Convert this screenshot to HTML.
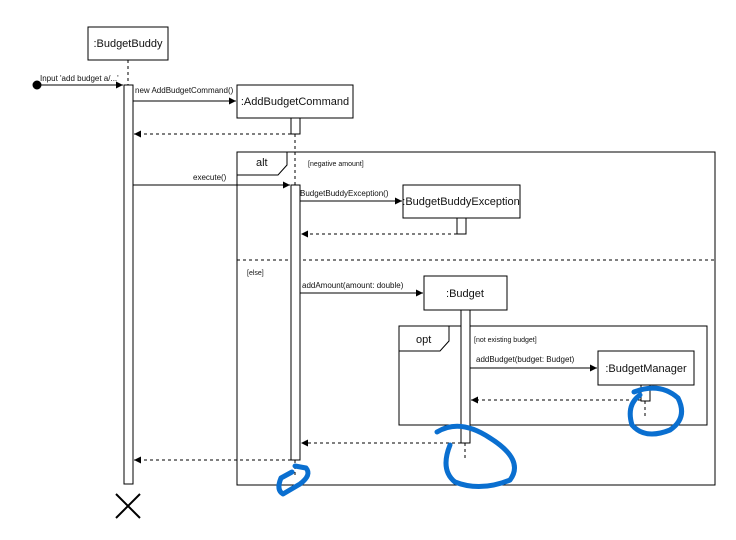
<!DOCTYPE html>
<html><head><style>body{margin:0;background:#fff}svg{display:block}text{font-family:"Liberation Sans",sans-serif;fill:#111}</style></head>
<body>
<svg width="736" height="540" viewBox="0 0 736 540" xmlns="http://www.w3.org/2000/svg">
<defs><marker id="a" markerWidth="8" markerHeight="8" refX="7" refY="4" orient="auto" markerUnits="userSpaceOnUse"><path d="M0,0.5 L7,4 L0,7.5 z" fill="#000"/></marker></defs>
<g stroke="#000" fill="#fff" stroke-width="1">
<!-- frames -->
<rect x="237" y="152" width="478" height="333" fill="none"/>
<path d="M237,175 H278 L287,165 V152" fill="none"/>
<line x1="237" y1="260" x2="715" y2="260" stroke-dasharray="3,3"/>
<rect x="399" y="326" width="308" height="99" fill="none"/>
<path d="M399,351 H440 L449,341 V326" fill="none"/>
<!-- lifelines -->
<g stroke-dasharray="3,3" fill="none">
<line x1="128" y1="60" x2="128" y2="85"/>
<line x1="295" y1="134" x2="295" y2="185"/>
<line x1="295" y1="460" x2="295" y2="476"/>
<line x1="465" y1="443" x2="465" y2="458"/>
<line x1="645" y1="401" x2="645" y2="416"/>
</g>
<!-- boxes -->
<rect x="88" y="27" width="80" height="33"/>
<rect x="237" y="85" width="116" height="33"/>
<rect x="403" y="185" width="117" height="33"/>
<rect x="424" y="276" width="83" height="34"/>
<rect x="598" y="351" width="96" height="34"/>
<!-- activations -->
<rect x="124" y="85" width="9" height="399"/>
<rect x="291" y="118" width="9" height="16"/>
<rect x="291" y="185" width="9" height="275"/>
<rect x="457" y="218" width="9" height="16"/>
<rect x="461" y="310" width="9" height="133"/>
<rect x="641" y="385" width="9" height="16"/>
<!-- messages -->
<circle cx="37" cy="85" r="4" fill="#000"/>
<line x1="37" y1="85" x2="123" y2="85" marker-end="url(#a)"/>
<line x1="133" y1="101" x2="236" y2="101" marker-end="url(#a)"/>
<line x1="133" y1="185" x2="290" y2="185" marker-end="url(#a)"/>
<line x1="300" y1="201" x2="402" y2="201" marker-end="url(#a)"/>
<line x1="300" y1="293" x2="423" y2="293" marker-end="url(#a)"/>
<line x1="470" y1="368" x2="597" y2="368" marker-end="url(#a)"/>
<g stroke-dasharray="3,3" fill="none">
<line x1="291" y1="134" x2="134" y2="134" marker-end="url(#a)"/>
<line x1="457" y1="234" x2="301" y2="234" marker-end="url(#a)"/>
<line x1="641" y1="400" x2="471" y2="400" marker-end="url(#a)"/>
<line x1="461" y1="443" x2="301" y2="443" marker-end="url(#a)"/>
<line x1="291" y1="460" x2="134" y2="460" marker-end="url(#a)"/>
</g>
<path d="M116,494 L140,518 M140,494 L116,518" stroke-width="2"/>
</g>
<g font-size="11">
<text x="128" y="47" text-anchor="middle">:BudgetBuddy</text>
<text x="295" y="105" text-anchor="middle">:AddBudgetCommand</text>
<text x="461" y="205" text-anchor="middle">:BudgetBuddyException</text>
<text x="465" y="297" text-anchor="middle">:Budget</text>
<text x="646" y="372" text-anchor="middle">:BudgetManager</text>
<text x="256" y="166">alt</text>
<text x="416" y="343">opt</text>
</g>
<g font-size="8">
<text x="40" y="81">Input 'add budget a/...'</text>
<text x="135" y="93">new AddBudgetCommand()</text>
<text x="193" y="180">execute()</text>
<text x="300" y="196">BudgetBuddyException()</text>
<text x="302" y="288">addAmount(amount: double)</text>
<text x="476" y="362">addBudget(budget: Budget)</text>
<text x="308" y="166" font-size="7">[negative amount]</text>
<text x="247" y="275" font-size="7">[else]</text>
<text x="474" y="342" font-size="7">[not existing budget]</text>
</g>
<g stroke="#0a6fd0" stroke-width="5" fill="none" stroke-linecap="round" stroke-linejoin="round">
<path d="M295,466 L306,468 Q312,475 300,484 L283,494 Q276,490 281,478 L292,472"/>
<path d="M437,432 Q460,418 490,438 Q525,460 510,480 Q480,492 455,482 Q440,470 450,445"/>
<path d="M634,392 Q660,382 678,398 Q688,418 670,430 Q645,440 632,425 Q626,405 640,395"/>
</g>
</svg>
</body></html>
